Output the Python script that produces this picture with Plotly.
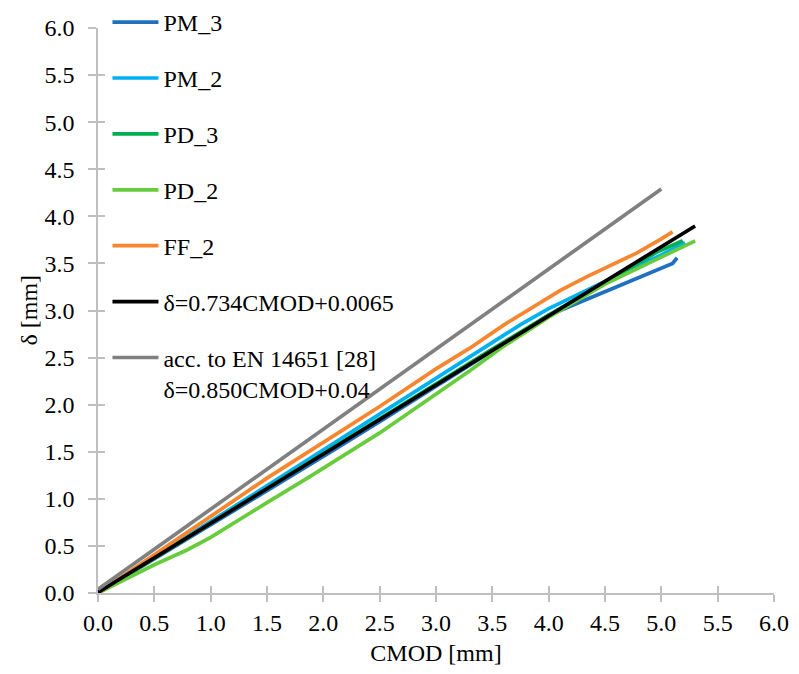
import plotly.graph_objects as go

# ---- data ----
pm3_x = [0.0, 0.5, 1.0, 1.5, 2.0, 2.5, 3.0, 3.5, 4.0, 4.3, 4.6, 4.9, 5.1, 5.14]
pm3_y = [0.0, 0.36, 0.72, 1.08, 1.45, 1.82, 2.19, 2.57, 2.95, 3.10, 3.25, 3.40, 3.50, 3.56]

pm2_x = [0.0, 0.5, 1.0, 1.5, 2.0, 2.5, 3.0, 3.5, 3.75, 4.0, 4.2, 4.45, 4.8, 5.0, 5.21]
pm2_y = [0.0, 0.38, 0.755, 1.135, 1.515, 1.90, 2.28, 2.66, 2.85, 3.02, 3.14, 3.28, 3.48, 3.59, 3.72]

pd3_x = [0.0, 0.5, 1.0, 1.5, 2.0, 2.5, 3.0, 3.5, 4.0, 4.5, 4.96, 5.15, 5.19]
pd3_y = [0.0, 0.37, 0.75, 1.12, 1.49, 1.86, 2.22, 2.59, 2.95, 3.30, 3.62, 3.72, 3.74]

pd2_x = [0.0, 0.25, 0.5, 0.79, 1.0, 1.5, 1.88, 2.5, 3.0, 3.3, 3.6, 4.0, 4.5, 5.07, 5.3]
pd2_y = [0.0, 0.15, 0.30, 0.457, 0.59, 0.96, 1.235, 1.70, 2.11, 2.36, 2.62, 2.93, 3.28, 3.61, 3.74]

ff2_x = [0.0, 0.5, 1.0, 1.5, 2.0, 2.5, 3.0, 3.3, 3.6, 3.9, 4.1, 4.34, 4.55, 4.78, 5.0, 5.10]
ff2_y = [0.0, 0.41, 0.82, 1.22, 1.60, 1.98, 2.38, 2.60, 2.845, 3.07, 3.21, 3.36, 3.48, 3.61, 3.76, 3.835]

fit_x = [0.0, 5.3]
fit_y = [0.0065, 3.897]

en_x = [0.0, 5.0]
en_y = [0.04, 4.29]

names = ["PM_3", "PM_2", "PD_3", "PD_2", "FF_2",
         "δ=0.734CMOD+0.0065",
         "acc. to EN 14651 [28]<br>δ=0.850CMOD+0.04"]
colors = ["#1F70C1", "#00B0F0", "#00B050", "#66CC3C", "#F7862F", "#000000", "#808080"]

series = [(pm3_x, pm3_y), (pm2_x, pm2_y), (pd3_x, pd3_y), (pd2_x, pd2_y),
          (ff2_x, ff2_y), (fit_x, fit_y), (en_x, en_y)]

FONT = "'Liberation Serif', 'DejaVu Serif', serif"
FS = 24
AXC = "#BFBFBF"

fig = go.Figure()
for i, ((xs, ys), nm, col) in enumerate(zip(series, names, colors)):
    fig.add_trace(go.Scatter(x=xs, y=ys, name=nm, mode="lines",
                             line=dict(color=col, width=3.7),
                             legendgroup=f"g{i}"))

# invisible trace to host the overlay axes (inner half of the crossing ticks)
fig.add_trace(go.Scatter(x=en_x, y=en_y, xaxis="x2", yaxis="y2", mode="lines",
                         line=dict(width=0), opacity=0, showlegend=False,
                         hoverinfo="skip"))

common = dict(range=[0, 6], dtick=0.5, tick0=0, showgrid=False, zeroline=False,
              automargin=False)

fig.update_layout(
    width=783, height=658,
    margin=dict(l=90, r=17, t=20, b=73, autoexpand=False),
    paper_bgcolor="white", plot_bgcolor="white",
    font=dict(family=FONT, size=FS, color="#000000"),
    showlegend=True,
    legend=dict(x=0.014, y=1.0496, xanchor="left", yanchor="top",
                bgcolor="rgba(0,0,0,0)", font=dict(family=FONT, size=FS),
                tracegroupgap=21.7, itemwidth=46, valign="top",
                traceorder="grouped", maxheight=640),
    xaxis=dict(**common, tickformat=".1f", showline=True, linecolor=AXC,
               linewidth=1.5, ticks="outside", ticklen=7, tickcolor=AXC,
               tickwidth=1.5, tickfont=dict(family=FONT, size=FS),
               title=dict(text="CMOD [mm]", font=dict(family=FONT, size=FS),
                          standoff=13)),
    yaxis=dict(**common, tickformat=".1f", showline=True, linecolor=AXC,
               linewidth=1.5, ticks="outside", ticklen=8, tickcolor=AXC,
               tickwidth=1.5, tickfont=dict(family=FONT, size=FS),
               ticklabelstandoff=9),
    xaxis2=dict(**common, overlaying="x", anchor="y2", side="bottom",
                ticks="inside", ticklen=7, tickcolor=AXC, tickwidth=1.5,
                showticklabels=False, showline=False),
    yaxis2=dict(**common, overlaying="y", anchor="x2", side="left",
                ticks="inside", ticklen=7, tickcolor=AXC, tickwidth=1.5,
                showticklabels=False, showline=False),
    annotations=[dict(text="δ [mm]", textangle=-90, xref="paper", yref="paper",
                      x=-0.1035, y=0.5, xanchor="center", yanchor="middle",
                      showarrow=False, font=dict(family=FONT, size=FS))],
)

fig.write_html("out.html")
